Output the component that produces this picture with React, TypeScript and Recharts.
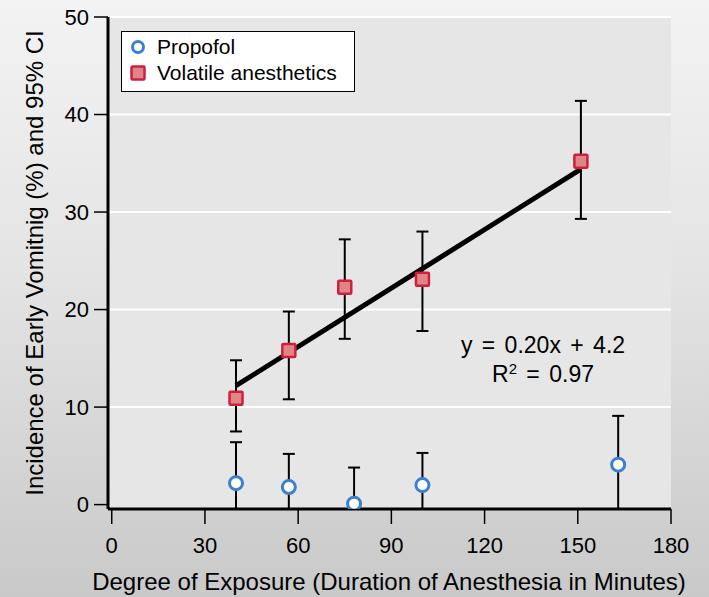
import { ScatterChart, Scatter, XAxis, YAxis, CartesianGrid, ErrorBar, Legend } from "recharts"

const FONT = '"Liberation Sans", Arial, Helvetica, sans-serif'

// duration of anesthesia (min) and early vomiting incidence (%)
const propofolX = [40, 57, 78, 100, 163]
const propofolY = [2.2, 1.8, 0.1, 2.0, 4.1]
const propofolLower = [0, 0, 0, 0, 0]
const propofolUpper = [6.4, 5.2, 3.8, 5.3, 9.1]

const volatileX = [40, 57, 75, 100, 151]
const volatileY = [10.9, 15.8, 22.3, 23.1, 35.2]
const volatileLower = [7.5, 10.8, 17.0, 17.8, 29.3]
const volatileUpper = [14.8, 19.8, 27.2, 28.0, 41.4]

// fitted line y = 0.20x + 4.2
const trendX = [40, 151]
const trendY = [12.2, 34.4]

const xTicks = [0, 30, 60, 90, 120, 150, 180]
const yTicks = [0, 10, 20, 30, 40, 50]
const gridValues = [10, 20, 30, 40, 50]

const legendItems = [
  { name: "Propofol", kind: "circle" },
  { name: "Volatile anesthetics", kind: "square" },
]

// the axes sit a little outside zero; bars clipped at 0 run down to the axis line
const Y_PAD = 0.45

const propofol = propofolX.map((x, i) => ({
  x,
  y: propofolY[i],
  err: [propofolY[i] - propofolLower[i] + (propofolLower[i] <= 0 ? Y_PAD : 0), propofolUpper[i] - propofolY[i]],
}))
const volatile = volatileX.map((x, i) => ({
  x,
  y: volatileY[i],
  err: [volatileY[i] - volatileLower[i], volatileUpper[i] - volatileY[i]],
}))
const trend = trendX.map((x, i) => ({ x, y: trendY[i] }))

const BLUE = "#3a7fd0"
const RED_STROKE = "#cf1f3d"
const RED_FILL = "#e08585"

function CircleMark(p: any) {
  return <circle cx={p.cx} cy={p.cy} r={6.5} fill="#fff" stroke={BLUE} strokeWidth={3} />
}

function SquareMark(p: any) {
  return (
    <rect x={p.cx - 6.5} y={p.cy - 6.5} width={13} height={13} fill={RED_FILL} stroke={RED_STROKE} strokeWidth={2.5} rx={1} />
  )
}

function LegendBox() {
  return (
    <div
      style={{
        position: "relative",
        width: 234,
        height: 61,
        boxSizing: "border-box",
        background: "#fff",
        border: "1.5px solid #000",
        fontFamily: FONT,
        fontSize: 21,
        color: "#000",
      }}
    >
      {legendItems.map((it, i) => (
        <div key={it.name} style={{ position: "absolute", left: 6, top: 3 + i * 26, height: 24, display: "flex", alignItems: "center" }}>
          <svg width={20} height={20} style={{ marginRight: 9 }}>
            {it.kind === "circle" ? (
              <circle cx={10} cy={10} r={5.5} fill="#fff" stroke={BLUE} strokeWidth={3} />
            ) : (
              <rect x={3.5} y={3.5} width={13} height={13} fill={RED_FILL} stroke={RED_STROKE} strokeWidth={2.5} rx={1} />
            )}
          </svg>
          <span style={{ whiteSpace: "nowrap" }}>{it.name}</span>
        </div>
      ))}
    </div>
  )
}

export default function App() {
  const axisStyle = { fill: "#000", fontSize: 22, fontFamily: FONT }
  return (
    <div
      style={{
        position: "absolute",
        left: 0,
        top: 0,
        width: 709,
        height: 597,
        background: "linear-gradient(180deg, #f3f3f3 0%, #e4e4e4 45%, #c9c9c9 100%)",
        fontFamily: FONT,
      }}
    >
      <ScatterChart width={709} height={597} margin={{ top: 17, right: 38, bottom: 28, left: 58 }}>
        <CartesianGrid vertical={false} horizontalValues={gridValues} stroke="#fff" strokeWidth={2} fill="#e6e6e6" />
        <XAxis
          type="number"
          dataKey="x"
          domain={[-1.2, 180]}
          ticks={xTicks}
          allowDataOverflow
          height={60}
          tickSize={15}
          tickMargin={13}
          axisLine={{ stroke: "#000", strokeWidth: 3 }}
          tickLine={{ stroke: "#000", strokeWidth: 1.5 }}
          tick={axisStyle}
        />
        <YAxis
          type="number"
          dataKey="y"
          domain={[-Y_PAD, 50]}
          ticks={yTicks}
          allowDataOverflow
          width={50}
          tickSize={14}
          tickMargin={5}
          axisLine={{ stroke: "#000", strokeWidth: 3 }}
          tickLine={{ stroke: "#000", strokeWidth: 1.5 }}
          tick={axisStyle}
        />
        <Legend
          layout="horizontal"
          align="center"
          verticalAlign="middle"
          wrapperStyle={{ left: 121, top: 31, width: 234, height: 61 }}
          content={() => <LegendBox />}
        />
        <Scatter name="Propofol" data={propofol} shape={CircleMark} isAnimationActive={false}>
          <ErrorBar dataKey="err" direction="y" width={6} stroke="#000" strokeWidth={2} />
        </Scatter>
        <Scatter
          name="trend"
          data={trend}
          line={{ stroke: "#000", strokeWidth: 5 }}
          shape={() => <g />}
          legendType="none"
          isAnimationActive={false}
        />
        <Scatter name="Volatile anesthetics" data={volatile} shape={SquareMark} isAnimationActive={false}>
          <ErrorBar dataKey="err" direction="y" width={6} stroke="#000" strokeWidth={2} />
        </Scatter>
      </ScatterChart>
      <svg width={709} height={597} style={{ position: "absolute", left: 0, top: 0, pointerEvents: "none" }}>
        <text
          x={43}
          y={263}
          transform="rotate(-90 43 263)"
          textAnchor="middle"
          fontSize={24}
          fontFamily={FONT}
          fill="#000"
        >
          Incidence of Early Vomitnig (%) and 95% CI
        </text>
        <text x={389} y={590} textAnchor="middle" fontSize={24} fontFamily={FONT} fill="#000">
          Degree of Exposure (Duration of Anesthesia in Minutes)
        </text>
        <text x={543} y={353} textAnchor="middle" fontSize={23} fontFamily={FONT} fill="#000" style={{ wordSpacing: 3 }}>
          y = 0.20x + 4.2
        </text>
        <text x={543} y={382} textAnchor="middle" fontSize={23} fontFamily={FONT} fill="#000" style={{ wordSpacing: 3 }}>
          R<tspan fontSize={15} dy={-8}>2</tspan>
          <tspan dy={8}> = 0.97</tspan>
        </text>
      </svg>
    </div>
  )
}
